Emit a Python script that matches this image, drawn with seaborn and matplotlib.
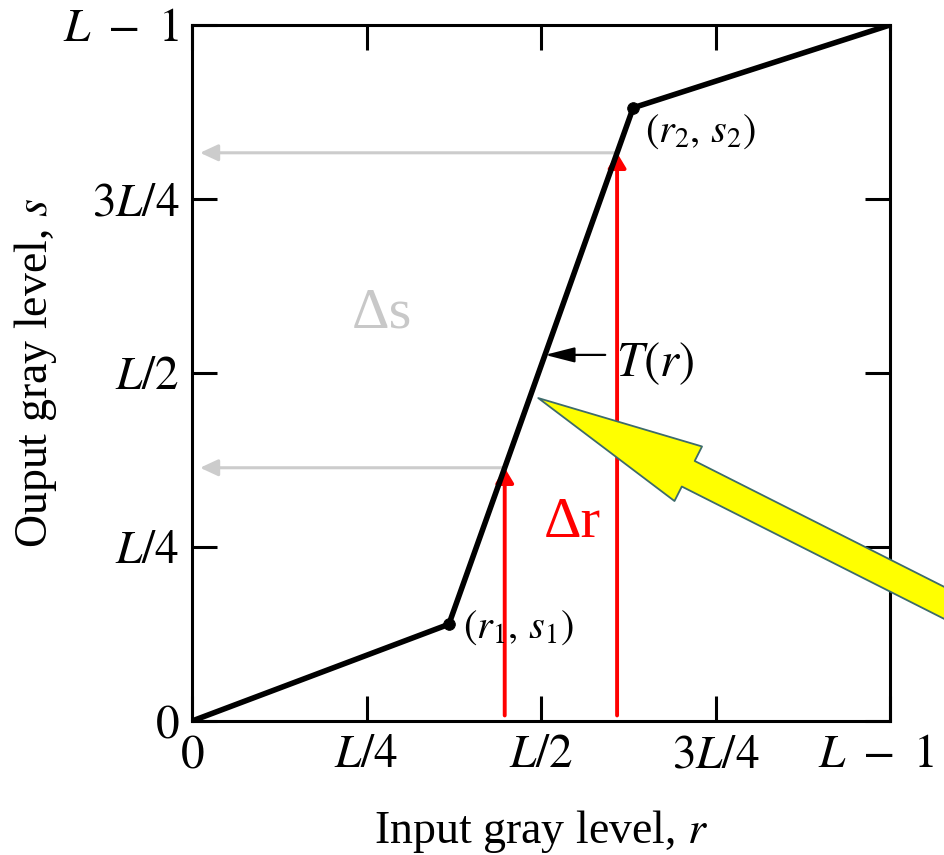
import numpy as np
import matplotlib
matplotlib.use("Agg")
import matplotlib.pyplot as plt
import matplotlib.transforms as mtransforms
import seaborn as sns

# Piecewise-linear contrast-stretching transformation s = T(r), in units of L
r_knots = [0.0, 0.368, 0.632, 1.0]
s_knots = [0.0, 0.139, 0.881, 1.0]

# Input levels marked with red arrows, and the level pointed at by the T(r) label
probe_r = [0.448, 0.609]
pointer_s = 0.526

tick_vals = [0.0, 0.25, 0.5, 0.75, 1.0]
tick_labels = ["$0$", "$L/4$", "$L/2$", "$3L/4$", r"$L\ -\ 1$"]

sns.set_theme(style="white")
plt.rcParams["font.family"] = ["Liberation Serif", "DejaVu Serif"]
plt.rcParams["mathtext.fontset"] = "stix"
plt.rcParams["text.color"] = "black"

fig = plt.figure(figsize=(9.44, 8.55), dpi=100)
ax = fig.add_axes([0.2034, 0.1567, 0.7394, 0.8141])

# transformation curve
sns.lineplot(x=r_knots, y=s_knots, ax=ax, color="black", lw=4.0,
             sort=False, estimator=None, zorder=4)
sns.scatterplot(x=r_knots[1:3], y=s_knots[1:3], ax=ax, color="black",
                s=70, marker="o", edgecolor="black", zorder=5)

probe_s = np.interp(probe_r, r_knots, s_knots)

# red arrows: input interval, gray arrows: resulting output levels
for r, s in zip(probe_r, probe_s):
    ax.annotate("", xy=(r, s), xytext=(r, 0.008),
                arrowprops=dict(arrowstyle="-|>,head_length=0.45,head_width=0.27",
                                color="#ff0000", lw=2.8, shrinkA=0, shrinkB=0,
                                mutation_scale=20), zorder=3)
    ax.annotate("", xy=(0.0115, s), xytext=(r, s),
                arrowprops=dict(arrowstyle="-|>,head_length=0.54,head_width=0.25",
                                color="#cccccc", lw=2.2, shrinkA=0, shrinkB=0,
                                mutation_scale=20), zorder=2)

# pointer to the curve labelled T(r)
pointer_r = np.interp(pointer_s, s_knots, r_knots)
ax.annotate("", xy=(pointer_r, pointer_s), xytext=(0.592, pointer_s),
            arrowprops=dict(arrowstyle="-|>,head_length=0.9,head_width=0.23",
                            color="black", lw=1.6, shrinkA=0, shrinkB=0,
                            mutation_scale=20), zorder=3)
ax.text(0.607, 0.514, "$T(r)$", fontsize=35, ha="left", va="center", color="black")

ax.text(r_knots[1] + 0.02, s_knots[1] - 0.005, "$(r_1,\\,s_1)$", fontsize=29,
        ha="left", va="center", color="black")
ax.text(r_knots[2] + 0.017, s_knots[2] - 0.035, "$(r_2,\\,s_2)$", fontsize=29,
        ha="left", va="center", color="black")

ax.text(0.272, 0.585, "Δs", fontsize=42, color="#c8c8c8", ha="center", va="center")
ax.text(0.545, 0.284, "Δr", fontsize=42, color="#ff0000", ha="center", va="center")

# highlight arrow
ax.annotate("", xy=(0.496, 0.464), xytext=(1.172, 0.122),
            arrowprops=dict(arrowstyle="simple,head_length=1.21,head_width=0.44,tail_width=0.206",
                            fc="#ffff00", ec="#3d6b6b", lw=1.3, shrinkA=0, shrinkB=0,
                            mutation_scale=100, clip_on=False),
            annotation_clip=False, zorder=10)

ax.set_xlim(0, 1)
ax.set_ylim(0, 1)
ax.set_xticks(tick_vals)
ax.set_xticklabels(tick_labels)
ax.set_yticks(tick_vals)
ax.set_yticklabels(tick_labels)
ax.tick_params(axis="both", direction="in", length=18, width=2.2, color="black",
               bottom=True, left=True, top=True, right=True,
               labelsize=34, labelcolor="black")
ax.tick_params(axis="x", pad=10)
ax.tick_params(axis="y", pad=9)
for sp in ax.spines.values():
    sp.set_visible(True)
    sp.set_color("black")
    sp.set_linewidth(2.2)

# keep the last x tick label inside the figure edge
last_lbl = ax.get_xticklabels()[-1]
last_lbl.set_transform(last_lbl.get_transform() +
                       mtransforms.ScaledTranslation(-10 / 72, 0, fig.dpi_scale_trans))

ax.set_xlabel("Input gray level, $r$", fontsize=33, color="black")
ax.set_ylabel("Ouput gray level, $s$", fontsize=33, color="black")
ax.xaxis.set_label_coords(0.5, -0.125)
ax.yaxis.set_label_coords(-0.19, 0.5)

fig.savefig("out.png", dpi=100)
